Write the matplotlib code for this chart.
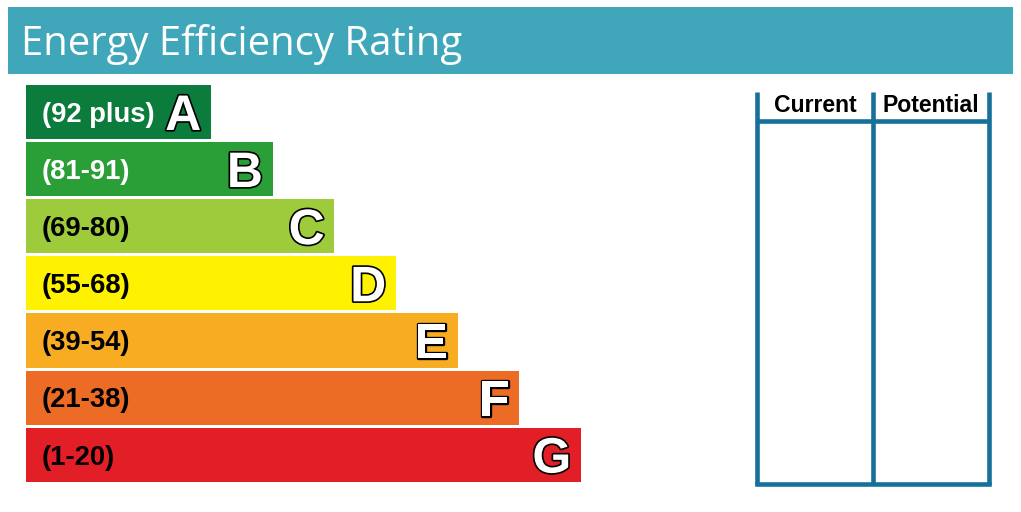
import matplotlib
matplotlib.use("Agg")
import matplotlib.pyplot as plt
import matplotlib.patheffects as pe
from matplotlib.patches import Rectangle

# ---- data ----
bands = ["A", "B", "C", "D", "E", "F", "G"]
ranges = ["(92 plus)", "(81-91)", "(69-80)", "(55-68)", "(39-54)", "(21-38)", "(1-20)"]
band_widths = [3, 4, 5, 6, 7, 8, 9]
band_colors = ["#0b7c3c", "#2a9e37", "#9dcb3c", "#fff200", "#f7ac22", "#ec6b25", "#e21e26"]
range_text_colors = ["white", "white", "black", "black", "black", "black", "black"]
columns = ["Current", "Potential"]
title = "Energy Efficiency Rating"

W, H = 1021, 512
fig = plt.figure(figsize=(W / 100, H / 100), dpi=100)
fig.patch.set_facecolor("white")

def fx(px):
    return px / W

def fy(py):
    return 1 - py / H

# header band
fig.add_artist(Rectangle((fx(8), fy(74)), fx(1013) - fx(8), fy(7) - fy(74),
                         transform=fig.transFigure, facecolor="#3fa7b9",
                         edgecolor="none", zorder=0))
fig.text(fx(21), fy(55), title, family="Open Sans", fontsize=28.9,
         color="white", va="baseline", ha="left")

# bars axes
top, bottom = 83.5, 483.3
ax = fig.add_axes([fx(26), fy(bottom), fx(581) - fx(26), fy(top) - fy(bottom)])
ax.set_xlim(0, max(band_widths))
ax.set_ylim(len(bands) - 0.5, -0.5)
ax.axis("off")
ypos = list(range(len(bands)))
ax.barh(ypos, band_widths, height=0.946, left=0, color=band_colors, edgecolor="none")

range_fs = 19.7
letter_fs = 36
for i, (b, r, w) in enumerate(zip(bands, ranges, band_widths)):
    ax.annotate(r, xy=(0, i), xytext=(11.2, -0.716 * range_fs / 2),
                textcoords="offset points", ha="left", va="baseline",
                family="Liberation Sans", weight="bold", fontsize=range_fs,
                color=range_text_colors[i])
    ax.annotate(b, xy=(w, i), xytext=(-7, -0.716 * letter_fs / 2),
                textcoords="offset points", ha="right", va="baseline",
                family="Liberation Sans", weight="bold", fontsize=letter_fs,
                color="white",
                path_effects=[pe.Stroke(linewidth=2.4, foreground="black"), pe.Normal()])

# table axes
t_top, t_bot = 92, 483.5
tx = fig.add_axes([fx(757), fy(t_bot), fx(989) - fx(757), fy(t_top) - fy(t_bot)])
tx.set_xlim(0, len(columns))
tx.set_ylim(1, 0)
tx.axis("off")
line_col = "#15709a"
lw = 3.3
head = (121 - t_top) / (t_bot - t_top)
for k in range(len(columns) + 1):
    tx.plot([k, k], [0, 1], color=line_col, lw=lw, solid_capstyle="butt", clip_on=False)
tx.plot([0, len(columns)], [head, head], color=line_col, lw=lw,
        solid_capstyle="butt", clip_on=False)
tx.plot([0, len(columns)], [1, 1], color=line_col, lw=lw,
        solid_capstyle="projecting", clip_on=False)
for k, c in enumerate(columns):
    tx.text(k + 0.5, (112 - t_top) / (t_bot - t_top), c, ha="center", va="baseline",
            family="Liberation Sans", weight="bold", fontsize=16.6, color="black")

fig.savefig("out.png", dpi=100, facecolor="white")
